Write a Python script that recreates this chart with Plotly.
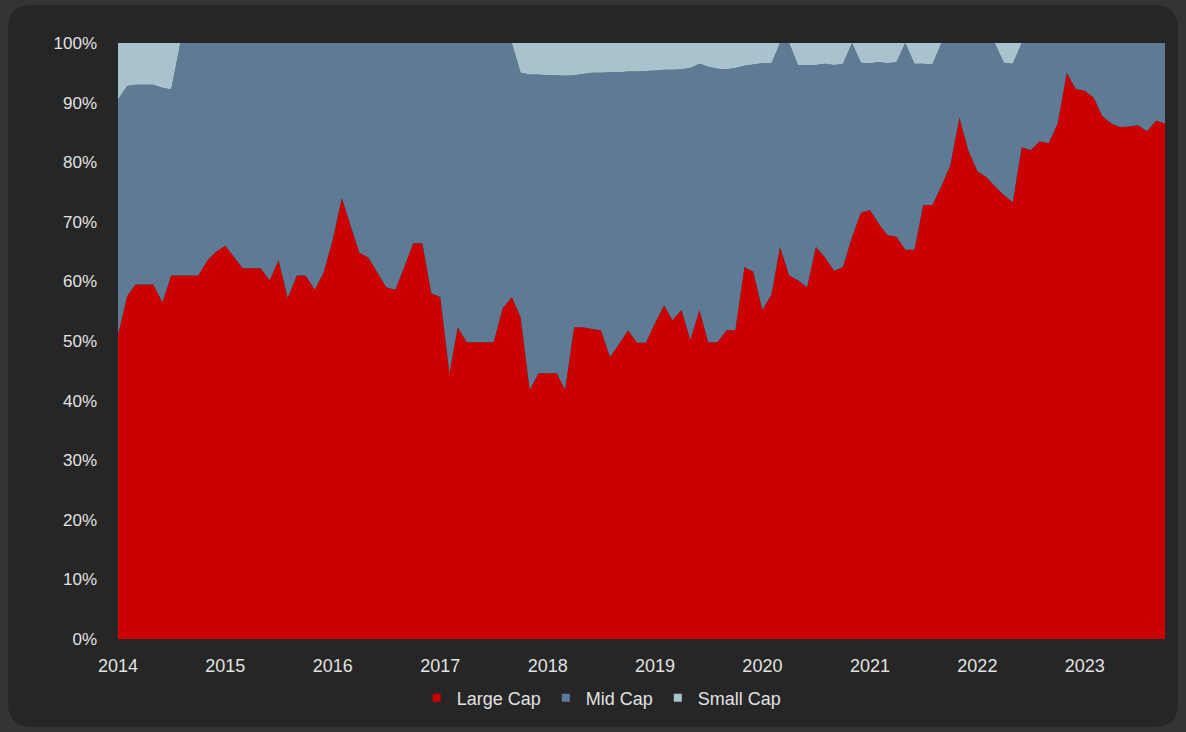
import pandas as pd
import plotly.graph_objects as go

# Monthly market-cap mix of holdings, Jan 2014 - Oct 2023 (% of portfolio)
months = pd.date_range("2014-01-01", periods=118, freq="MS")

large_cap = [
    51, 57.5, 59.5, 59.5, 59.5, 56.5, 61, 61, 61, 61, 63.5, 65,
    66, 64, 62.2, 62.2, 62.2, 60.2, 63.6, 57.2, 61, 61, 58.6, 61.5,
    67, 74, 69.5, 64.8, 64, 61.5, 59, 58.6, 62.5, 66.4, 66.4, 58,
    57.4, 44.6, 52.3, 49.8, 49.8, 49.8, 49.8, 55.5, 57.4, 54, 41.8, 44.6,
    44.6, 44.6, 41.8, 52.3, 52.3, 52, 51.8, 47.3, 49.5, 51.8, 49.7, 49.7,
    53, 56, 53.5, 55.2, 50.2, 55.2, 49.8, 49.8, 51.8, 51.8, 62.4, 61.6,
    55.2, 57.8, 65.8, 61, 60.2, 59, 65.8, 64, 61.8, 62.4, 67.5, 71.5,
    72, 69.6, 67.8, 67.5, 65.3, 65.3, 72.8, 72.8, 76, 79.5, 87.5, 82,
    78.5, 77.5, 76, 74.5, 73.3, 82.5, 82, 83.5, 83.2, 86.5, 95, 92.3,
    92, 90.8, 87.8, 86.5, 85.9, 86, 86.2, 85.2, 87, 86.5,
]

mid_cap = [
    39.5, 35.3, 33.5, 33.5, 33.5, 36, 31.2, 39, 39, 39, 36.5, 35,
    34, 36, 37.8, 37.8, 37.8, 39.8, 36.4, 42.8, 39, 39, 41.4, 38.5,
    33, 26, 30.5, 35.2, 36, 38.5, 41, 41.4, 37.5, 33.6, 33.6, 42,
    42.6, 55.4, 47.7, 50.2, 50.2, 50.2, 50.2, 44.5, 42.6, 41, 52.9, 50.1,
    50, 50, 52.7, 42.3, 42.5, 43, 43.2, 47.8, 45.6, 43.4, 45.5, 45.6,
    42.4, 39.5, 42, 40.4, 45.6, 41.3, 46.2, 45.9, 43.8, 44, 33.8, 34.8,
    41.4, 38.8, 34.2, 39, 36.1, 37.3, 30.5, 32.5, 34.5, 34.1, 32.5, 25.2,
    24.6, 27.2, 28.8, 29.3, 34.7, 31.2, 23.7, 23.6, 24, 20.5, 12.5, 18,
    21.5, 22.5, 24, 22.2, 23.2, 17.5, 18, 16.5, 16.8, 13.5, 5, 7.7,
    8, 9.2, 12.2, 13.5, 14.1, 14, 13.8, 14.8, 13, 13.5,
]

small_cap = [
    9.5, 7.2, 7, 7, 7, 7.5, 7.8, 0, 0, 0, 0, 0,
    0, 0, 0, 0, 0, 0, 0, 0, 0, 0, 0, 0,
    0, 0, 0, 0, 0, 0, 0, 0, 0, 0, 0, 0,
    0, 0, 0, 0, 0, 0, 0, 0, 0, 5, 5.3, 5.3,
    5.4, 5.4, 5.5, 5.4, 5.2, 5, 5, 4.9, 4.9, 4.8, 4.8, 4.7,
    4.6, 4.5, 4.5, 4.4, 4.2, 3.5, 4, 4.3, 4.4, 4.2, 3.8, 3.6,
    3.4, 3.4, 0, 0, 3.7, 3.7, 3.7, 3.5, 3.7, 3.5, 0, 3.3,
    3.4, 3.2, 3.4, 3.2, 0, 3.5, 3.5, 3.6, 0, 0, 0, 0,
    0, 0, 0, 3.3, 3.5, 0, 0, 0, 0, 0, 0, 0,
    0, 0, 0, 0, 0, 0, 0, 0, 0, 0,
]

year_labels = ["2014", "2015", "2016", "2017", "2018",
               "2019", "2020", "2021", "2022", "2023"]
y_ticks = [0, 10, 20, 30, 40, 50, 60, 70, 80, 90, 100]
y_tick_labels = [f"{v}%" for v in y_ticks]

series = [
    ("Large Cap", large_cap, "#cc0000"),
    ("Mid Cap", mid_cap, "#5e7a94"),
    ("Small Cap", small_cap, "#a8c3cd"),
]

PAGE_W, PAGE_H = 1186, 732
M_L, M_R, M_T, M_B = 118, 21, 43, 93
TEXT = "#e2e2e2"
FONT = "Liberation Sans, Arial, sans-serif"

fig = go.Figure()
for name, vals, color in series:
    fig.add_trace(go.Scatter(
        x=months, y=vals, name=name, stackgroup="caps",
        mode="none", fillcolor=color, line=dict(width=0, shape="linear"),
        showlegend=False, hoverinfo="x+y+name",
    ))
# compact square legend keys
for name, vals, color in series:
    fig.add_trace(go.Scatter(
        x=[None], y=[None], name=name, mode="markers",
        marker=dict(symbol="square", size=8, color=color),
        showlegend=True,
    ))

# rounded dark panel behind the chart, expressed in paper coordinates
pw = PAGE_W - M_L - M_R
ph = PAGE_H - M_T - M_B


def px(x):
    return (x - M_L) / pw


def py(y):
    return (PAGE_H - M_B - y) / ph


x0, x1, y0, y1, r = 8, 1178, 5, 727, 24
path = (
    f"M {px(x0 + r)},{py(y0)} L {px(x1 - r)},{py(y0)} "
    f"Q {px(x1)},{py(y0)} {px(x1)},{py(y0 + r)} "
    f"L {px(x1)},{py(y1 - r)} Q {px(x1)},{py(y1)} {px(x1 - r)},{py(y1)} "
    f"L {px(x0 + r)},{py(y1)} Q {px(x0)},{py(y1)} {px(x0)},{py(y1 - r)} "
    f"L {px(x0)},{py(y0 + r)} Q {px(x0)},{py(y0)} {px(x0 + r)},{py(y0)} Z"
)

fig.update_layout(
    width=PAGE_W, height=PAGE_H,
    margin=dict(l=M_L, r=M_R, t=M_T, b=M_B, pad=0),
    paper_bgcolor="#343434",
    plot_bgcolor="#262626",
    font=dict(family=FONT, size=18, color=TEXT),
    shapes=[dict(type="path", xref="paper", yref="paper", path=path,
                 fillcolor="#262626", line=dict(width=0), layer="below")],
    xaxis=dict(
        type="date", range=[months[0], months[-1]],
        tickvals=[f"{y}-01-01" for y in year_labels], ticktext=year_labels,
        showgrid=False, zeroline=False, showline=False, ticks="",
        tickfont=dict(size=18, color=TEXT), ticklabelstandoff=14,
    ),
    yaxis=dict(
        range=[0, 100], tickvals=y_ticks, ticktext=y_tick_labels,
        showgrid=False, zeroline=False, showline=False, ticks="",
        tickfont=dict(size=17, color=TEXT), ticklabelstandoff=20,
    ),
    legend=dict(
        orientation="h", x=0.462, xanchor="center", y=-0.068, yanchor="top",
        font=dict(size=18, color=TEXT), bgcolor="rgba(0,0,0,0)",
        itemwidth=30, traceorder="normal",
    ),
    hovermode="x unified",
)

fig.write_html("out.html")
